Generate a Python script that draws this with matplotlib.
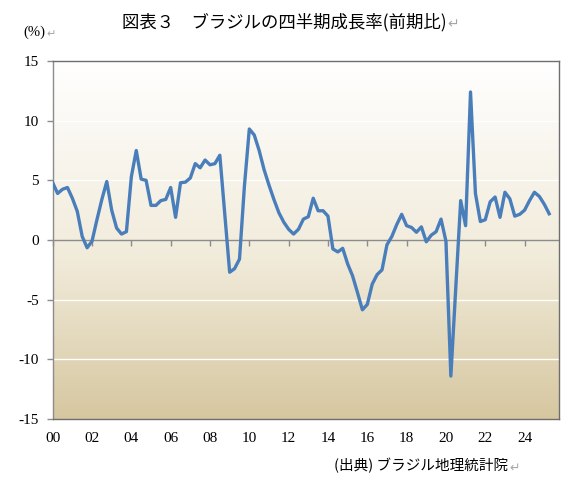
import matplotlib
matplotlib.use("Agg")
import matplotlib.pyplot as plt
import numpy as np
from matplotlib.colors import LinearSegmentedColormap

# ---- data: Brazil quarterly growth, 2000Q1 - 2025Q2 (%) ----
growth = [
    4.8, 3.9, 4.25, 4.4,      # 2000
    3.5, 2.4, 0.3, -0.65,     # 2001
    -0.1, 1.7, 3.4, 4.9,      # 2002
    2.5, 1.0, 0.5, 0.7,       # 2003
    5.3, 7.5, 5.1, 5.0,       # 2004
    2.9, 2.9, 3.3, 3.4,       # 2005
    4.4, 1.9, 4.8, 4.85,      # 2006
    5.2, 6.4, 6.05, 6.7,      # 2007
    6.3, 6.4, 7.1, 2.2,       # 2008
    -2.7, -2.4, -1.6, 4.5,    # 2009
    9.3, 8.8, 7.5, 5.9,       # 2010
    4.6, 3.4, 2.3, 1.5,       # 2011
    0.9, 0.5, 0.9, 1.75,      # 2012
    1.95, 3.5, 2.45, 2.45,    # 2013
    2.0, -0.75, -1.0, -0.7,   # 2014
    -2.0, -3.0, -4.4, -5.85,  # 2015
    -5.4, -3.7, -2.9, -2.5,   # 2016
    -0.4, 0.3, 1.3, 2.15,     # 2017
    1.2, 1.05, 0.65, 1.1,     # 2018
    -0.15, 0.4, 0.7, 1.75,    # 2019
    -0.1, -11.4, -4.0, 3.3,   # 2020
    1.2, 12.4, 3.9, 1.55,     # 2021
    1.7, 3.2, 3.6, 1.9,       # 2022
    4.0, 3.45, 2.0, 2.15,     # 2023
    2.5, 3.3, 4.0, 3.65,      # 2024
    3.0, 2.2,                 # 2025
]
n_categories = 104            # axis runs 2000Q1 .. 2025Q4
year_labels = ["00", "02", "04", "06", "08", "10", "12",
               "14", "16", "18", "20", "22", "24"]
y_ticks = [-15, -10, -5, 0, 5, 10, 15]

title_text = "図表３　ブラジルの四半期成長率(前期比)"
unit_text = "(%)"
source_text = "(出典) ブラジル地理統計院"
return_mark = "\u21b5"

jp_font = ["Noto Sans CJK JP", "DejaVu Sans"]
num_font = "Liberation Serif"
grey = "#8c8c8c"

fig = plt.figure(figsize=(5.74, 4.87), dpi=100)
ax = fig.add_axes([52.7 / 574, 1 - 419 / 487, (559 - 52.7) / 574, (419 - 61) / 487])

# gradient background (white -> parchment)
cmap = LinearSegmentedColormap.from_list(
    "parch", [(0.0, "#d6c7a0"), (0.45, "#f1ebda"), (1.0, "#ffffff")])
grad = np.linspace(0, 1, 256).reshape(-1, 1)
ax.imshow(grad, cmap=cmap, aspect="auto", origin="lower",
          extent=(0, n_categories - 1, -15, 15), zorder=0)

for yv in [-10, -5, 5, 10]:
    ax.axhline(yv, color="white", lw=1.0, zorder=1)

# category axis drawn on the zero line, with small downward ticks
tick_pos = np.arange(0, 8 * len(year_labels), 8)
ax.axhline(0, color=grey, lw=1.0, zorder=2)
ax.plot(tick_pos, np.zeros(len(tick_pos)), ls="none", marker=3, ms=4,
        mew=1.0, color=grey, zorder=2, clip_on=False)

x = np.arange(len(growth))
ax.plot(x, growth, color="#4a7ebb", lw=2.4, zorder=3, solid_joinstyle="round")

ax.set_xlim(0, n_categories - 1)
ax.set_ylim(-15, 15)

ax.set_xticks(tick_pos)
ax.set_xticklabels(year_labels, fontfamily=num_font, fontsize=11)
ax.tick_params(axis="x", length=0, pad=9)

ax.set_yticks(y_ticks)
ax.set_yticklabels([str(v) for v in y_ticks], fontfamily=num_font, fontsize=11)
ax.tick_params(axis="y", length=4, width=1, color=grey, pad=6)

ax.spines["left"].set_color(grey)
for side in ["top", "right", "bottom"]:
    ax.spines[side].set_color("#6e6e6e")
for sp in ax.spines.values():
    sp.set_linewidth(1.0)

# texts with Word-style return marks
title = fig.text(122 / 574, 1 - 22 / 487, title_text, family=jp_font,
                 fontsize=12.5, ha="left", va="center")
unit = fig.text(23 / 574, 1 - 32 / 487, unit_text, family=num_font,
                fontsize=10.5, ha="left", va="center")
source = fig.text(334 / 574, 1 - 466 / 487, source_text, family=jp_font,
                  fontsize=10.5, ha="left", va="center")

fig.canvas.draw()
renderer = fig.canvas.get_renderer()
for t, fs in [(title, 10), (unit, 8), (source, 9)]:
    bb = t.get_window_extent(renderer)
    fig.text(bb.x1 / fig.bbox.width + 1 / 574, t.get_position()[1] - 2 / 487,
             return_mark, family=["DejaVu Sans"], fontsize=fs,
             color="#a6a6a6", ha="left", va="center")

fig.savefig("out.png", dpi=100, facecolor="white")
